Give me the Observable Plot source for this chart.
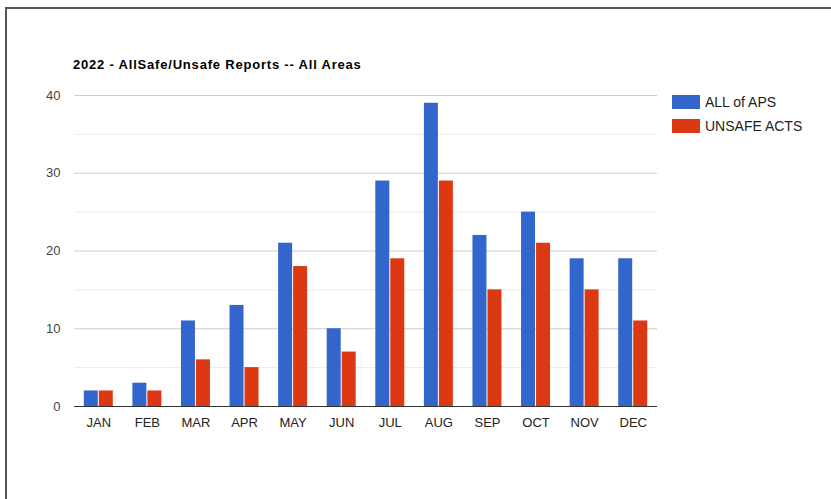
<!DOCTYPE html>
<html>
<head>
<meta charset="utf-8">
<script src="https://cdn.jsdelivr.net/npm/d3@7"></script>
<script src="https://cdn.jsdelivr.net/npm/@observablehq/plot@0.6"></script>
<style>
  html, body { margin: 0; padding: 0; background: #fff; }
  #wrap { position: relative; width: 831px; height: 499px; overflow: hidden; font-family: Arial, "Liberation Sans", sans-serif; }
  #border { position: absolute; left: 5px; top: 7px; width: 840px; height: 520px; border-top: 2px solid #555; border-left: 2px solid #555; box-sizing: border-box; }
  #title { position: absolute; left: 73px; top: 57px; font-size: 13px; font-weight: bold; color: #000; letter-spacing: 0.8px; }
  .leg { position: absolute; left: 672px; font-size: 14px; color: #222; display: flex; align-items: center; }
  .sw { width: 28px; height: 14px; margin-right: 5px; }
  #chart { position: absolute; left: 0; top: 0; }
</style>
</head>
<body>
<div id="wrap">
  <div id="chart"></div>
  <div id="border"></div>
  <div id="title"></div>
  <div id="legend"></div>
</div>
<script>
const titleText = "2022 - AllSafe/Unsafe Reports -- All Areas";
const months = ["JAN","FEB","MAR","APR","MAY","JUN","JUL","AUG","SEP","OCT","NOV","DEC"];
const seriesNames = ["ALL of APS", "UNSAFE ACTS"];
const allAps = [2, 3, 11, 13, 21, 10, 29, 39, 22, 25, 19, 19];
const unsafeActs = [2, 2, 6, 5, 18, 7, 19, 29, 15, 21, 15, 11];
const majorTicks = [0, 10, 20, 30, 40];
const minorTicks = [5, 15, 25, 35];
const colors = ["#3366cc", "#dc3912"];

const blue = months.map((m, i) => ({month: m, value: allAps[i]}));
const red = months.map((m, i) => ({month: m, value: unsafeActs[i]}));

const chart = Plot.plot({
  width: 831,
  height: 499,
  marginLeft: 74,
  marginRight: 174,
  marginTop: 95,
  marginBottom: 93,
  style: {fontFamily: "Arial, 'Liberation Sans', sans-serif", fontSize: "13px", background: "transparent"},
  x: {domain: months, paddingInner: 0.712, paddingOuter: 0.356, round: false, label: null},
  y: {domain: [0, 40], label: null},
  marks: [
    Plot.ruleY(minorTicks, {stroke: "#ebebeb", strokeWidth: 1}),
    Plot.ruleY(majorTicks.filter(d => d > 0), {stroke: "#cccccc", strokeWidth: 1}),
    Plot.barY(blue, {x: "month", y: "value", fill: colors[0], dx: -7.5}),
    Plot.barY(red, {x: "month", y: "value", fill: colors[1], dx: 7.5}),
    Plot.ruleY([0], {stroke: "#333", strokeWidth: 1}),
    Plot.axisY({ticks: majorTicks, tickSize: 0, tickPadding: 14, fill: "#444", fontSize: 13, label: null}),
    Plot.axisX({tickSize: 0, tickPadding: 11, fill: "#222", fontSize: 13, label: null})
  ]
});
document.getElementById("chart").appendChild(chart);
document.getElementById("title").textContent = titleText;

const legend = document.getElementById("legend");
seriesNames.forEach((name, i) => {
  const row = document.createElement("div");
  row.className = "leg";
  row.style.top = (94 + i * 23.5) + "px";
  const sw = document.createElement("div");
  sw.className = "sw";
  sw.style.background = colors[i];
  const t = document.createElement("span");
  t.textContent = name;
  row.appendChild(sw);
  row.appendChild(t);
  legend.appendChild(row);
});
</script>
</body>
</html>
